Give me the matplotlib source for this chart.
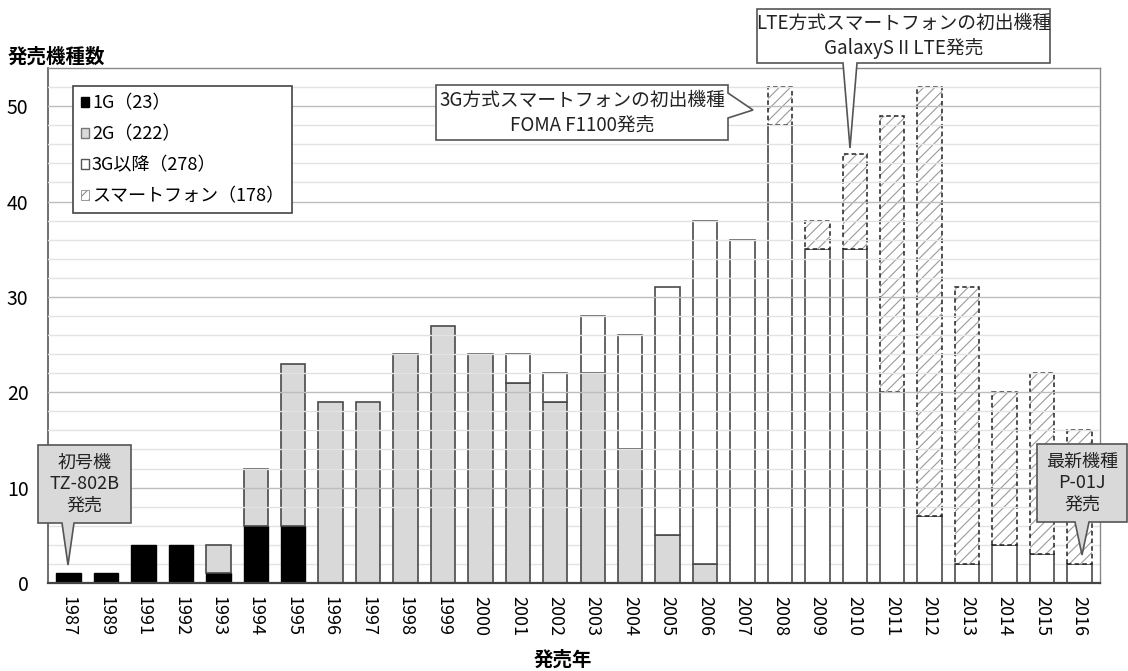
import matplotlib.pyplot as plt
from matplotlib.patches import Polygon, Patch
import numpy as np

plt.rcParams['font.family'] = ['Noto Sans CJK JP', 'DejaVu Sans']
plt.rcParams['hatch.linewidth'] = 0.8

W, H = 1128, 671

years = ['1987', '1989', '1991', '1992', '1993', '1994', '1995', '1996', '1997',
         '1998', '1999', '2000', '2001', '2002', '2003', '2004', '2005', '2006',
         '2007', '2008', '2009', '2010', '2011', '2012', '2013', '2014', '2015', '2016']
gen1 = [1, 1, 4, 4, 1, 6, 6, 0, 0, 0, 0, 0, 0, 0,
        0, 0, 0, 0, 0, 0, 0, 0, 0, 0, 0, 0, 0, 0]
gen2 = [0, 0, 0, 0, 3, 6, 17, 19, 19, 24, 27, 24, 21, 19,
        22, 14, 5, 2, 0, 0, 0, 0, 0, 0, 0, 0, 0, 0]
gen3 = [0, 0, 0, 0, 0, 0, 0, 0, 0, 0, 0, 0, 3, 3,
        6, 12, 26, 36, 36, 48, 35, 35, 20, 7, 2, 4, 3, 2]
smart = [0, 0, 0, 0, 0, 0, 0, 0, 0, 0, 0, 0, 0, 0,
         0, 0, 0, 0, 0, 4, 3, 10, 29, 45, 29, 16, 19, 14]
legend_labels = ['1G（23）', '2G（222）', '3G以降（278）', 'スマートフォン（178）']

fig = plt.figure(figsize=(W / 100, H / 100), dpi=100)
ax = fig.add_axes([48 / W, 1 - 583 / H, (1100 - 48) / W, (583 - 68) / H])

x = np.arange(len(years))
g1, g2, g3, sp = (np.array(a) for a in (gen1, gen2, gen3, smart))
bw = 0.65
edge = '#4a4a4a'


def stacked(vals, base, **kw):
    m = vals > 0
    ax.bar(x[m], vals[m], bw, bottom=base[m], zorder=2, **kw)


stacked(g1, np.zeros(len(x)), color='black', edgecolor='black', lw=1)
stacked(g2, g1, color='#d9d9d9', edgecolor=edge, lw=1.2)
stacked(g3, g1 + g2, color='white', edgecolor=edge, lw=1.2)
# smartphones: grey hatch plus a dashed outline
stacked(sp, g1 + g2 + g3, color='white', edgecolor='#9a9a9a', hatch='///', lw=0)
stacked(sp, g1 + g2 + g3, facecolor='none', edgecolor='#222', lw=1.1,
        linestyle=(0, (3, 2)))

# grid every 2, darker every 10; lines from 8 up sit over the bars
for v in range(2, 54, 2):
    c = '#bdbdbd' if v % 10 == 0 else '#e3e3e3'
    ax.axhline(v, color=c, lw=1, zorder=1 if v < 8 else 3)

ax.set_xlim(-0.55, len(years) - 0.45)
ax.set_ylim(0, 54)
ax.set_yticks(range(0, 51, 10))
ax.set_xticks(x)
ax.set_xticklabels(years, rotation=270)
ax.tick_params(axis='y', length=0, pad=14, labelsize=14)
ax.tick_params(axis='x', length=0, pad=9, labelsize=13)
for s in ('top', 'right'):
    ax.spines[s].set_color('#8a8a8a')
    ax.spines[s].set_linewidth(1)
ax.spines['left'].set_color('#555')
ax.spines['left'].set_linewidth(1.2)
ax.spines['bottom'].set_color('#444')
ax.spines['bottom'].set_linewidth(1.6)
ax.spines['bottom'].set_zorder(4)

handles = [Patch(facecolor='black', edgecolor='black'),
           Patch(facecolor='#d9d9d9', edgecolor='#777'),
           Patch(facecolor='white', edgecolor='#555'),
           Patch(facecolor='white', edgecolor='#8a8a8a', hatch='///', lw=0.6)]
leg = ax.legend(handles, legend_labels, loc='upper left',
                bbox_to_anchor=((73 - 48) / 1052, (583 - 86) / 515),
                borderaxespad=0, fontsize=13, handlelength=0.45,
                handleheight=0.45, handletextpad=0.15, labelspacing=0.72,
                borderpad=0.45, fancybox=False, framealpha=1, edgecolor='#444')
leg.get_frame().set_linewidth(1.2)
leg.set_zorder(6)

fig.text(8 / W, 1 - 57 / H, '発売機種数', fontsize=14, fontweight='bold',
         ha='left', va='center')
fig.text(563 / W, 1 - 660 / H, '発売年', fontsize=14, fontweight='bold',
         ha='center', va='center')


def fpt(px, py):
    return (px / W, 1 - py / H)


def callout(box, side, base, tip, text, fc, size):
    x0, y0, x1, y1 = box
    pts = [(x0, y0), (x1, y0)]
    if side == 'right':
        pts += [(x1, base[0]), tip, (x1, base[1])]
    pts.append((x1, y1))
    if side == 'bottom':
        pts += [(base[1], y1), tip, (base[0], y1)]
    pts.append((x0, y1))
    fig.add_artist(Polygon([fpt(*p) for p in pts], closed=True,
                           transform=fig.transFigure, facecolor=fc,
                           edgecolor='#555', lw=1.2, zorder=10))
    fig.text(*fpt((x0 + x1) / 2, (y0 + y1) / 2), text, ha='center',
             va='center', fontsize=size, linespacing=1.25, zorder=11,
             color='#222')


callout((38, 445, 131, 523), 'bottom', (62, 74), (68, 565),
        '初号機\nTZ-802B\n発売', '#d9d9d9', 13)
callout((436, 85, 728, 140), 'right', (93, 118), (753, 110),
        '3G方式スマートフォンの初出機種\nFOMA F1100発売', 'white', 13.5)
callout((757, 9, 1050, 63), 'bottom', (843, 857), (850, 148),
        'LTE方式スマートフォンの初出機種\nGalaxyS II LTE発売', 'white', 13.5)
callout((1037, 444, 1127, 522), 'bottom', (1075, 1089), (1082, 555),
        '最新機種\nP-01J\n発売', '#d9d9d9', 13)

fig.savefig('out.png', dpi=100)
